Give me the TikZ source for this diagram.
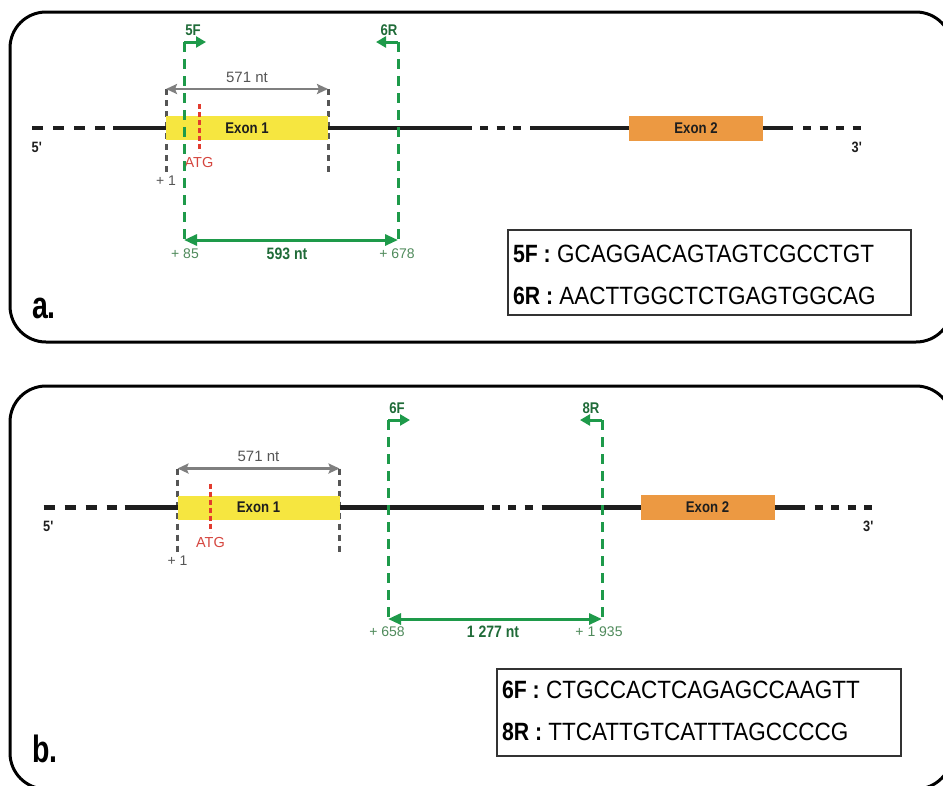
\documentclass[tikz,border=0pt]{standalone}
\usepackage{fontspec}
\setmainfont{Liberation Sans}
\newfontfamily\condf[FakeStretch=0.85]{Liberation Sans}
\newfontfamily\narrowf[FakeStretch=0.75]{Liberation Sans}
\newfontfamily\seqf[FakeStretch=0.9]{Liberation Sans}
\usetikzlibrary{arrows.meta}
\definecolor{dnablack}{HTML}{1E1E1E}
\definecolor{exyellow}{HTML}{F6E640}
\definecolor{exorange}{HTML}{EC9942}
\definecolor{pgreen}{HTML}{1E9A4A}
\definecolor{pdark}{HTML}{1F6B38}
\definecolor{pcoord}{HTML}{4F8A5B}
\definecolor{gline}{HTML}{555555}
\definecolor{garrow}{HTML}{7F7F7F}
\definecolor{rline}{HTML}{E23B2E}
\definecolor{rtext}{HTML}{D5463F}
\tikzset{
  every node/.style={inner sep=0pt,outer sep=0pt},
  frame/.style={line width=3pt,rounded corners=36pt,draw=black},
  dna/.style={line width=4.5pt,draw=dnablack},
  dnadashL/.style={dna,dash pattern=on 11pt off 10pt},
  dnadashS/.style={dna,dash pattern=on 8pt off 8.5pt},
  exonA/.style={fill=exyellow,minimum width=162pt,minimum height=24pt,
    font=\condf\bfseries\fontsize{15.5}{15.5}\selectfont,text=dnablack},
  exonB/.style={fill=exorange,minimum width=134pt,minimum height=25pt,
    font=\condf\bfseries\fontsize{15.5}{15.5}\selectfont,text=dnablack},
  endlbl/.style={font=\condf\bfseries\fontsize{15}{15}\selectfont,text=dnablack},
  graydash/.style={line width=3pt,draw=gline,dash pattern=on 6pt off 5pt},
  grayarrow/.style={line width=2.5pt,draw=garrow,
    {Stealth[length=11pt,width=10pt,inset=2pt]}-{Stealth[length=11pt,width=10pt,inset=2pt]}},
  graylbl/.style={font=\fontsize{15}{15}\selectfont,text=gline},
  pluslbl/.style={font=\fontsize{14}{14}\selectfont,text=gline},
  atgline/.style={line width=3pt,draw=rline,dash pattern=on 5pt off 3pt},
  atglbl/.style={font=\fontsize{14.5}{14.5}\selectfont,text=rtext},
  primerdash/.style={line width=3pt,draw=pgreen,dash pattern=on 10pt off 7pt},
  primerarrow/.style={line width=3pt,draw=pgreen,-{Triangle[length=10pt,width=11pt]}},
  primerlbl/.style={font=\condf\bfseries\fontsize{15.5}{15.5}\selectfont,text=pdark},
  amparrow/.style={line width=3pt,draw=pgreen,
    {Triangle[length=13pt,width=11pt]}-{Triangle[length=13pt,width=11pt]}},
  coordlbl/.style={font=\fontsize{14}{14}\selectfont,text=pcoord},
  amplbl/.style={font=\condf\bfseries\fontsize{16.5}{16.5}\selectfont,text=pdark},
  seqbox/.style={draw=black!80,line width=1.3pt},
  seqtxt/.style={anchor=base west,font=\seqf\fontsize{25}{25}\selectfont,text=black},
  panellbl/.style={anchor=base west,font=\narrowf\bfseries\fontsize{38}{38}\selectfont,text=black}
}
\newcommand\genestruct[1]{%
  \coordinate (#1g1t) at (166,89); \coordinate (#1g1b) at (166,175);
  \coordinate (#1g2t) at (328,89); \coordinate (#1g2b) at (328,175);
  \draw[graydash] (#1g1t) -- (#1g1b);
  \draw[graydash] (#1g2t) -- (#1g2b);
  \draw[grayarrow] (#1g1t) -- (#1g2t);
  \node[graylbl] (#1len) at (247,77) {571 nt};
  \node[pluslbl] (#1plus) at (166,181) {+ 1};
  \node[exonA] (#1ex1) at (247,128) {Exon 1};
  \node[exonB] (#1ex2) at (696,128) {Exon 2};
  \coordinate (#1a0) at (32,128); \coordinate (#1a1) at (105,128);
  \coordinate (#1a2) at (113,128);
  \coordinate (#1b0) at (472,128); \coordinate (#1b1) at (480,128);
  \coordinate (#1b2) at (522,128); \coordinate (#1b3) at (530,128);
  \coordinate (#1c0) at (793,128); \coordinate (#1c1) at (803,128);
  \coordinate (#1c2) at (861,128);
  \draw[dnadashL] (#1a0) -- (#1a1);
  \draw[dna] (#1a2) -- (#1ex1.west);
  \draw[dna] (#1ex1.east) -- (#1b0);
  \draw[dnadashS] (#1b1) -- (#1b2);
  \draw[dna] (#1b3) -- (#1ex2.west);
  \draw[dna] (#1ex2.east) -- (#1c0);
  \draw[dnadashS] (#1c1) -- (#1c2);
  \coordinate (#1at) at (199,104); \coordinate (#1ab) at (199,152);
  \draw[atgline] (#1at) -- (#1ab);
  \node[atglbl] (#1atg) at (199,163) {ATG};
  \node[endlbl] (#1five) at (37,147) {5\textquotesingle};
  \node[endlbl] (#1three) at (857,147) {3\textquotesingle};
}
\begin{document}
\begin{tikzpicture}[x=1pt,y=-1pt]
\useasboundingbox (0,0) rectangle (943,785);
% frames
\draw[frame] (10,12) rectangle (952,342);
\draw[frame] (10,386) rectangle (952,789);
% panel a
\genestruct{a}
\coordinate (a5t) at (184,42); \coordinate (a5b) at (184,240); \coordinate (a5e) at (206,42);
\coordinate (a6t) at (398,42); \coordinate (a6b) at (398,240); \coordinate (a6e) at (376,42);
\draw[primerdash] (a5t) -- (a5b);
\draw[primerdash] (a6t) -- (a6b);
\draw[primerarrow] (a5t) -- (a5e);
\draw[primerarrow] (a6t) -- (a6e);
\node[primerlbl] (a5F) at (193,30) {5F};
\node[primerlbl] (a6R) at (389,30) {6R};
\draw[amparrow] (a5b) -- (a6b);
\node[coordlbl] (a85) at (185,254) {+ 85};
\node[amplbl] (a593) at (287,254) {593 nt};
\node[coordlbl] (a678) at (397,254) {+ 678};
\node[seqbox,minimum width=403pt,minimum height=85pt] (abox) at (709.5,272.5) {};
\node[seqtxt] (aseq1) at (513,262) {{\condf\bfseries 5F :} GCAGGACAGTAGTCGCCTGT};
\node[seqtxt] (aseq2) at (513,304) {{\condf\bfseries 6R :} AACTTGGCTCTGAGTGGCAG};
\node[panellbl] (alab) at (32,318) {a.};
% panel b
\begin{scope}[shift={(11.5,379.5)}]
\genestruct{b}
\end{scope}
\coordinate (b6t) at (388,420); \coordinate (b6b) at (388,619); \coordinate (b6e) at (410,420);
\coordinate (b8t) at (602,420); \coordinate (b8b) at (602,619); \coordinate (b8e) at (580,420);
\draw[primerdash] (b6t) -- (b6b);
\draw[primerdash] (b8t) -- (b8b);
\draw[primerarrow] (b6t) -- (b6e);
\draw[primerarrow] (b8t) -- (b8e);
\node[primerlbl] (b6F) at (397,408) {6F};
\node[primerlbl] (b8R) at (591,408) {8R};
\draw[amparrow] (b6b) -- (b8b);
\node[coordlbl] (b658) at (387,632) {+ 658};
\node[amplbl] (b1277) at (493,632) {1 277 nt};
\node[coordlbl] (b1935) at (599,632) {+ 1 935};
\node[seqbox,minimum width=404pt,minimum height=87pt] (bbox) at (699,712.5) {};
\node[seqtxt] (bseq1) at (502,698) {{\condf\bfseries 6F :} CTGCCACTCAGAGCCAAGTT};
\node[seqtxt] (bseq2) at (502,740) {{\condf\bfseries 8R :} TTCATTGTCATTTAGCCCCG};
\node[panellbl] (blab) at (32,762) {b.};
\end{tikzpicture}
\end{document}
